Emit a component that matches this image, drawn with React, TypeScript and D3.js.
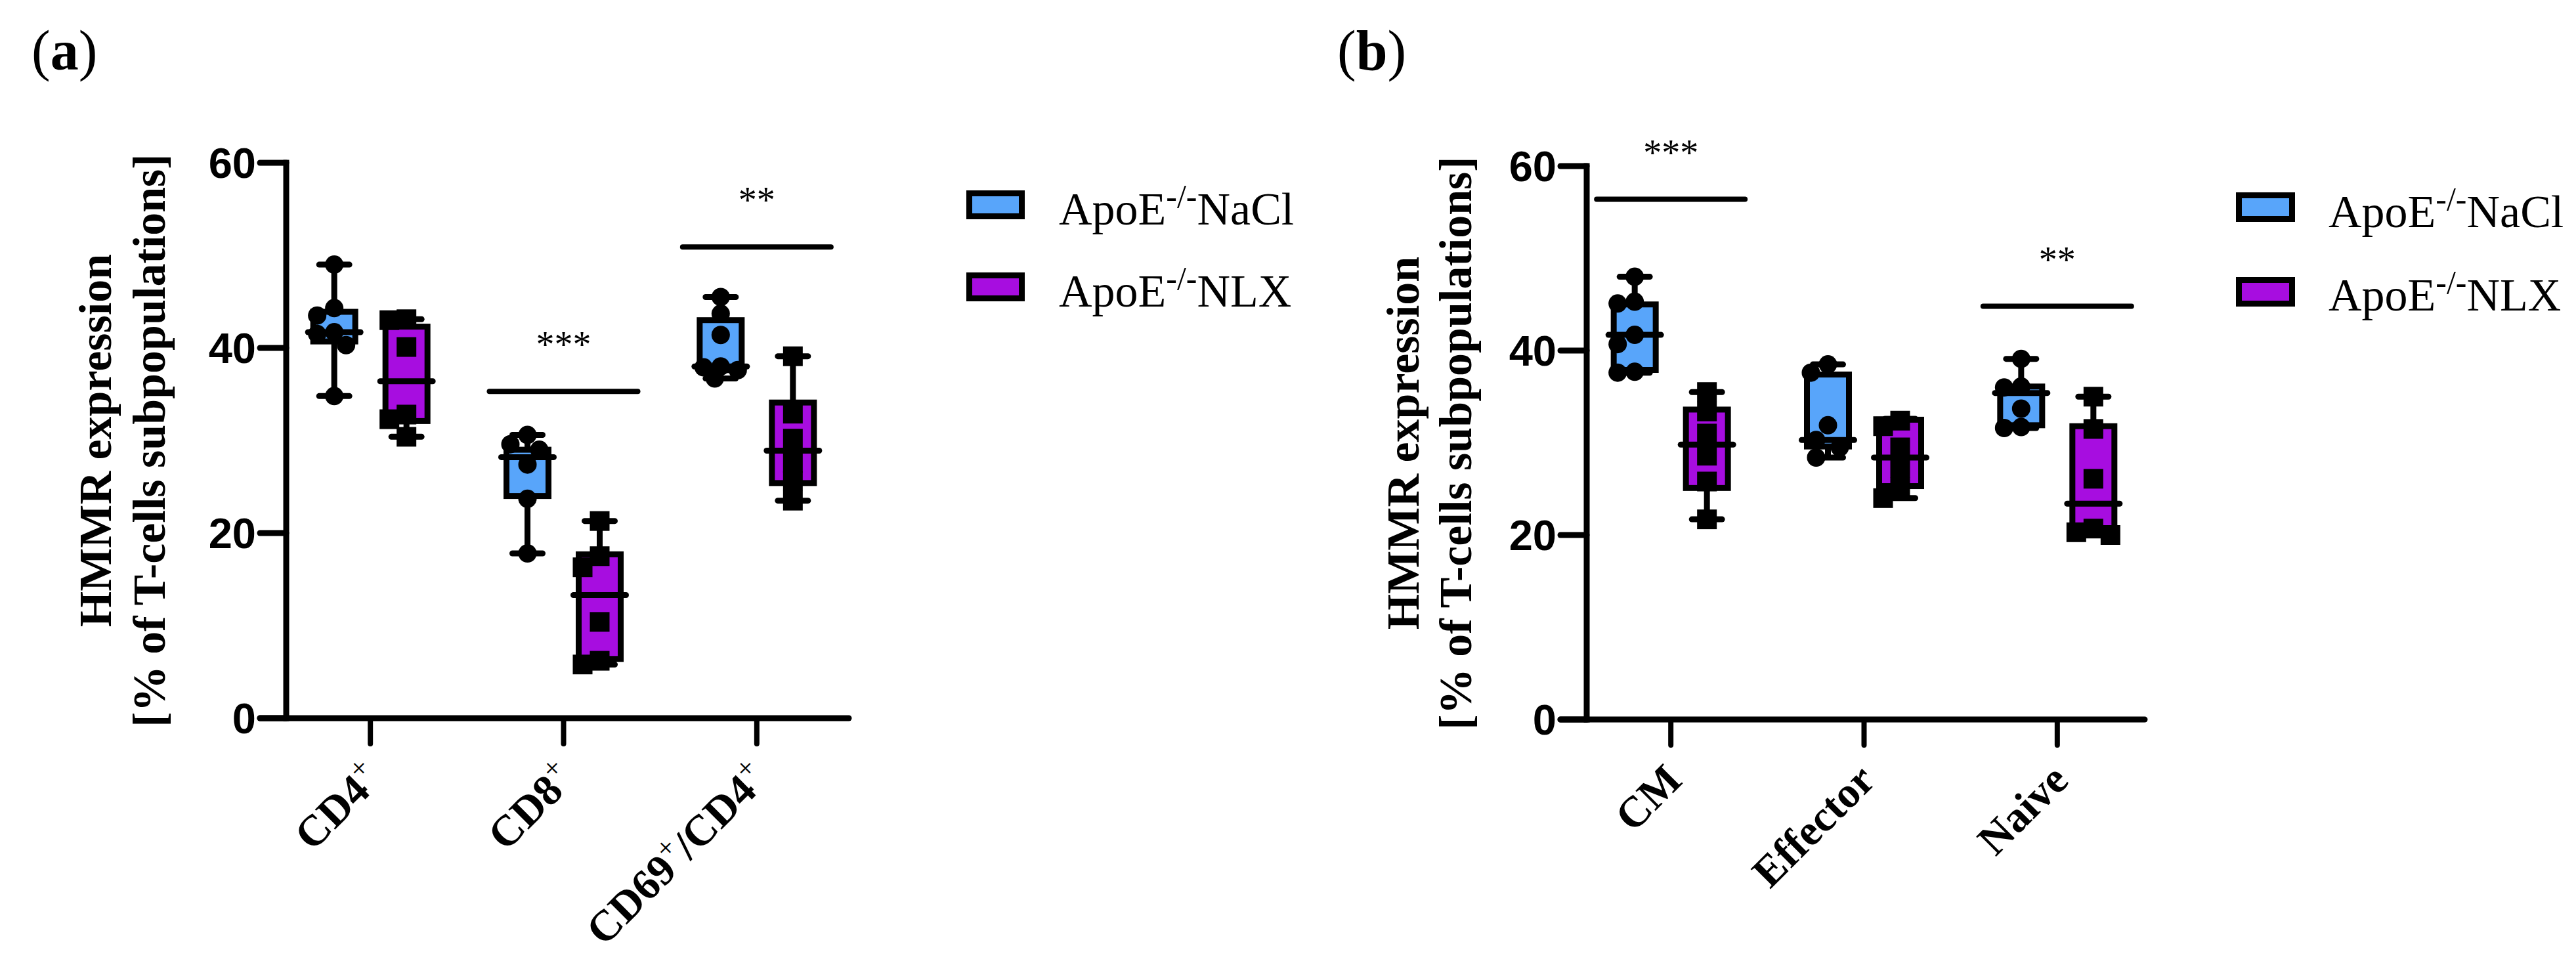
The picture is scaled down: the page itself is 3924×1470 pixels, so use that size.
import React from 'react';
import * as d3 from 'd3';

// ---------- data ----------
const groups = ['NaCl', 'NLX'];
const groupColors = ['#58A5FA', '#A70DE0'];
const yTicks = [0, 20, 40, 60];

// panel (a)
const catsA = ['CD4', 'CD8', 'CD69/CD4'];
// label parts: [text, isSuperscript]
const catLabelsA: [string, boolean][][] = [
  [['CD4', false], ['+', true]],
  [['CD8', false], ['+', true]],
  [['CD69', false], ['+', true], ['/CD4', false], ['+', true]],
];
// box stats: [min, q1, median, q3, max]
const boxNaClA = [
  [34.8, 40.7, 41.7, 43.9, 49.0],
  [17.8, 24.0, 28.2, 29.0, 30.6],
  [36.7, 37.6, 38.0, 43.0, 45.5],
];
const boxNLXA = [
  [30.4, 32.1, 36.4, 42.3, 43.1],
  [5.8, 6.4, 13.3, 17.7, 21.3],
  [23.5, 25.4, 28.9, 34.1, 39.1],
];
const ptsNaClA = [
  [49.0, 44.3, 43.5, 41.7, 41.5, 40.3, 34.8],
  [30.6, 29.6, 29.0, 27.4, 23.7, 17.8],
  [45.5, 43.7, 41.4, 38.0, 37.9, 37.6, 36.7],
];
const ptsNLXA = [
  [43.1, 43.0, 40.1, 32.8, 32.3, 30.4],
  [21.3, 17.5, 16.3, 10.4, 6.2, 5.8],
  [39.1, 32.9, 30.2, 27.6, 25.6, 23.5],
];
const sigCatA = [1, 2];
const sigValA = [35.3, 50.9];
const sigTextA = ['***', '**'];

// panel (b)
const catsB = ['CM', 'Effector', 'Naive'];
const catLabelsB: [string, boolean][][] = [
  [['CM', false]],
  [['Effector', false]],
  [['Naive', false]],
];
const boxNaClB = [
  [37.6, 37.9, 41.7, 45.0, 48.0],
  [28.4, 29.6, 30.3, 37.4, 38.5],
  [31.6, 31.9, 35.4, 36.1, 39.1],
];
const boxNLXB = [
  [21.7, 25.1, 29.8, 33.6, 35.5],
  [24.0, 25.3, 28.4, 32.5, 32.6],
  [20.0, 20.3, 23.4, 31.8, 35.0],
];
const ptsNaClB = [
  [48.0, 45.3, 45.1, 41.7, 40.7, 37.7, 37.6],
  [38.5, 37.6, 31.9, 30.3, 29.5, 28.4],
  [39.1, 36.1, 36.0, 33.7, 31.7, 31.6],
];
const ptsNLXB = [
  [35.5, 33.4, 31.0, 28.6, 25.8, 21.7],
  [32.4, 31.8, 29.5, 27.3, 25.2, 24.0],
  [35.0, 31.5, 26.1, 20.7, 20.3, 20.0],
];
const sigCatB = [0, 2];
const sigValB = [56.4, 44.8];
const sigTextB = ['***', '**'];

const yTitle1 = 'HMMR expression';
const yTitle2 = '[% of T-cells subpopulations]';
const legendBase = 'ApoE';
const legendSup = '-/-';
const legendNames = ['NaCl', 'NLX'];

// ---------- styling ----------
const SERIF = "'Liberation Serif', 'Times New Roman', Times, serif";
const SANS = "'Liberation Sans', Arial, Helvetica, sans-serif";
const SW = 9;

function dodge(vals: number[], y: (v: number) => number, minDist: number): number[] {
  const order = vals.map((v, i) => i).sort((a, b) => vals[b] - vals[a]);
  const cands = [0, -18, 18, -9, 9, -26, 26];
  const placed: { x: number; y: number }[] = [];
  const out = new Array(vals.length).fill(0);
  for (const i of order) {
    const py = y(vals[i]);
    let best = 0;
    let bestD = -1;
    for (const c of cands) {
      let md = Infinity;
      for (const p of placed) md = Math.min(md, Math.hypot(p.x - c, p.y - py));
      if (md >= minDist) { best = c; bestD = Infinity; break; }
      if (md > bestD) { bestD = md; best = c; }
    }
    placed.push({ x: best, y: py });
    out[i] = best;
  }
  return out;
}

type PanelProps = {
  letter: string;
  letterX: number;
  cats: string[];
  catLabels: [string, boolean][][];
  boxes: number[][][];
  pts: number[][][];
  sigCat: number[];
  sigVal: number[];
  sigText: string[];
  axisX: number;
  y0: number;
  y60: number;
  xRange: [number, number];
  xEnd: number;
  titleX1: number;
  titleX2: number;
  titleCY: number;
  legX: number;
  legY: number[];
  legW: number;
  legH: number;
  legTextX: number;
  legBase: number[];
};

function Panel(p: PanelProps) {
  const y = d3.scaleLinear().domain([0, 60]).range([p.y0, p.y60]);
  const x = d3.scalePoint<string>().domain(p.cats).range(p.xRange).padding(0.5);
  const sub = d3.scalePoint<string>().domain(groups).range([-55, 55]);
  const boxW = 64;
  const capW = 46;
  return (
    <g>
      <text x={p.letterX} y={106} fontFamily={SERIF} fontSize={86}>
        <tspan>(</tspan><tspan fontWeight="bold">{p.letter}</tspan><tspan>)</tspan>
      </text>
      {/* y title */}
      <text transform={`translate(${p.titleX1},${p.titleCY}) rotate(-90)`} textAnchor="middle"
        fontFamily={SERIF} fontWeight="bold" fontSize={70}>{yTitle1}</text>
      <text transform={`translate(${p.titleX2},${p.titleCY}) rotate(-90)`} textAnchor="middle"
        fontFamily={SERIF} fontWeight="bold" fontSize={70}>{yTitle2}</text>
      {/* boxes */}
      {p.cats.map((c, ci) => (
        <g key={c}>
          {groups.map((g, gi) => {
            const [mn, q1, md, q3, mx] = p.boxes[gi][ci];
            const cx = (x(c) as number) + (sub(g) as number);
            const vals = p.pts[gi][ci];
            const offs = dodge(vals, y, 25);
            return (
              <g key={g}>
                <line x1={cx} x2={cx} y1={y(mx)} y2={y(mn)} stroke="#000" strokeWidth={SW} />
                <line x1={cx - capW / 2} x2={cx + capW / 2} y1={y(mx)} y2={y(mx)} stroke="#000" strokeWidth={SW} strokeLinecap="round" />
                <line x1={cx - capW / 2} x2={cx + capW / 2} y1={y(mn)} y2={y(mn)} stroke="#000" strokeWidth={SW} strokeLinecap="round" />
                <rect x={cx - boxW / 2} y={y(q3)} width={boxW} height={y(q1) - y(q3)}
                  fill={groupColors[gi]} stroke="#000" strokeWidth={SW} />
                <line x1={cx - boxW / 2 - 8} x2={cx + boxW / 2 + 8} y1={y(md)} y2={y(md)} stroke="#000" strokeWidth={SW} strokeLinecap="round" />
                {vals.map((v, vi) =>
                  gi === 0 ? (
                    <circle key={vi} cx={cx + offs[vi]} cy={y(v)} r={14} fill="#000" />
                  ) : (
                    <rect key={vi} x={cx + offs[vi] - 15} y={y(v) - 15} width={30} height={30} fill="#000" />
                  )
                )}
              </g>
            );
          })}
        </g>
      ))}
      {/* significance */}
      {p.sigCat.map((ci, i) => {
        const cx = x(p.cats[ci]) as number;
        const ly = y(p.sigVal[i]);
        return (
          <g key={i}>
            <line x1={cx - 113} x2={cx + 113} y1={ly} y2={ly} stroke="#000" strokeWidth={8} strokeLinecap="round" />
            <text x={cx} y={ly - 52} textAnchor="middle" fontFamily={SERIF} fontSize={56}>{p.sigText[i]}</text>
          </g>
        );
      })}
      {/* axes */}
      <line x1={p.axisX} x2={p.axisX} y1={p.y60} y2={p.y0} stroke="#000" strokeWidth={SW} strokeLinecap="square" />
      <line x1={p.axisX - 40} x2={p.xEnd} y1={p.y0} y2={p.y0} stroke="#000" strokeWidth={SW} strokeLinecap="round" />
      {yTicks.map(t => (
        <g key={t}>
          <line x1={p.axisX - 40} x2={p.axisX} y1={y(t)} y2={y(t)} stroke="#000" strokeWidth={SW} strokeLinecap="round" />
          <text x={p.axisX - 46} y={y(t)} dy="0.36em" textAnchor="end" fontFamily={SANS} fontWeight="bold" fontSize={65}>{t}</text>
        </g>
      ))}
      {p.cats.map((c, ci) => {
        const tx = x(c) as number;
        return (
          <g key={c}>
            <line x1={tx} x2={tx} y1={p.y0} y2={p.y0 + 39} stroke="#000" strokeWidth={8} strokeLinecap="round" />
            <text transform={`translate(${tx + 20},${p.y0 + 96}) rotate(-45)`} textAnchor="end"
              fontFamily={SERIF} fontWeight="bold" fontSize={66}>
              {(() => {
                let shift = 0;
                return p.catLabels[ci].map(([s, sup], k) => {
                  const target = sup ? -26 : 0;
                  const dy = target - shift;
                  shift = target;
                  return (
                    <tspan key={k} dy={dy} fontSize={sup ? 44 : 66} fontWeight={sup ? 'normal' : 'bold'}>{s}</tspan>
                  );
                });
              })()}
            </text>
          </g>
        );
      })}
      {/* legend */}
      {groups.map((g, gi) => (
        <g key={g}>
          <rect x={p.legX} y={p.legY[gi]} width={p.legW} height={p.legH} fill={groupColors[gi]} stroke="#000" strokeWidth={SW} />
          <text x={p.legTextX} y={p.legBase[gi]} fontFamily={SERIF} fontSize={70}>
            <tspan>{legendBase}</tspan>
            <tspan dy={-26} fontSize={50}>{legendSup}</tspan>
            <tspan dy={26}>{legendNames[gi]}</tspan>
          </text>
        </g>
      ))}
    </g>
  );
}

export default function App() {
  return (
    <svg width={3924} height={1470} viewBox="0 0 3924 1470"
      style={{ position: 'absolute', left: 0, top: 0, background: '#fff' }}>
      <rect x={0} y={0} width={3924} height={1470} fill="#fff" />
      <Panel
        letter="a" letterX={48}
        cats={catsA} catLabels={catLabelsA}
        boxes={[boxNaClA, boxNLXA]} pts={[ptsNaClA, ptsNLXA]}
        sigCat={sigCatA} sigVal={sigValA} sigText={sigTextA}
        axisX={436} y0={1094} y60={248} xRange={[417, 1300]} xEnd={1293}
        titleX1={169} titleX2={251} titleCY={671}
        legX={1476.5} legY={[294.5, 419.5]} legW={80} legH={35} legTextX={1613} legBase={[342, 467]}
      />
      <Panel
        letter="b" letterX={2037}
        cats={catsB} catLabels={catLabelsB}
        boxes={[boxNaClB, boxNLXB]} pts={[ptsNaClB, ptsNLXB]}
        sigCat={sigCatB} sigVal={sigValB} sigText={sigTextB}
        axisX={2417} y0={1096} y60={253} xRange={[2398, 3281]} xEnd={3267}
        titleX1={2161} titleX2={2241} titleCY={675}
        legX={3410.5} legY={[297.5, 426.5]} legW={81} legH={36} legTextX={3547} legBase={[346, 473]}
      />
    </svg>
  );
}
